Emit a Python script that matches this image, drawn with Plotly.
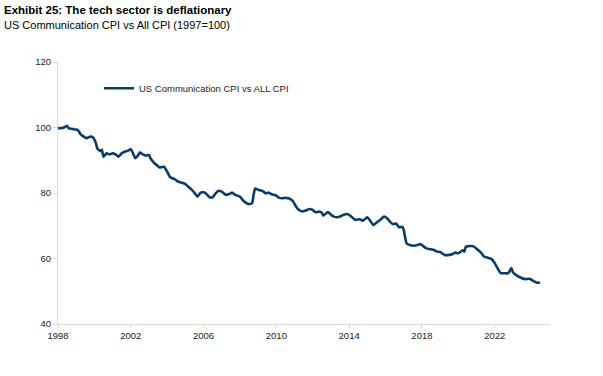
import plotly.graph_objects as go

dates = ["1998-01","1998-03","1998-05","1998-07","1998-08","1998-10","1998-12",
 "1999-02","1999-04","1999-06","1999-08","1999-10","1999-12",
 "2000-02","2000-03","2000-05","2000-06","2000-07","2000-09","2000-11",
 "2001-01","2001-03","2001-05","2001-07","2001-09","2001-12",
 "2002-01","2002-02","2002-04","2002-06","2002-07","2002-09","2002-11",
 "2003-01","2003-02","2003-04","2003-05","2003-06","2003-08","2003-11",
 "2004-01","2004-03","2004-06","2004-08","2004-11",
 "2005-01","2005-03","2005-05","2005-07","2005-09","2005-11",
 "2006-01","2006-03","2006-05","2006-07","2006-09","2006-11",
 "2007-01","2007-04","2007-06","2007-08","2007-10",
 "2008-01","2008-03","2008-05","2008-07","2008-09","2008-10","2008-11",
 "2009-01","2009-04","2009-06","2009-08","2009-10",
 "2010-01","2010-03","2010-05","2010-07","2010-09","2010-12",
 "2011-02","2011-04","2011-06","2011-08","2011-11",
 "2012-01","2012-03","2012-05","2012-07","2012-08","2012-11",
 "2013-01","2013-03","2013-05","2013-07","2013-09","2013-12",
 "2014-02","2014-05","2014-08","2014-10",
 "2015-01","2015-03","2015-05","2015-07","2015-10","2015-12",
 "2016-02","2016-04","2016-06","2016-08","2016-10","2016-12",
 "2017-01","2017-02","2017-03","2017-05","2017-08","2017-10","2017-12",
 "2018-02","2018-04","2018-07","2018-09","2018-11",
 "2019-01","2019-04","2019-07","2019-09","2019-11",
 "2020-01","2020-04","2020-05","2020-06","2020-09","2020-11",
 "2021-01","2021-04","2021-06","2021-08","2021-11",
 "2022-01","2022-03","2022-05","2022-07","2022-10","2022-12",
 "2023-01","2023-03","2023-06","2023-09","2023-12",
 "2024-03","2024-05","2024-07"]

values = [99.8,99.8,100.0,100.5,99.8,99.6,99.4,
 99.3,97.9,97.2,96.7,97.2,97.0,
 95.2,93.6,92.8,93.2,91.1,92.1,91.8,
 92.1,91.8,91.1,92.1,92.6,93.1,
 93.4,92.6,90.6,91.6,92.4,91.8,91.4,
 91.6,90.6,89.4,88.9,88.6,87.8,88.0,
 86.5,84.8,84.2,83.5,83.1,
 82.7,81.9,81.1,80.1,78.9,80.1,
 80.2,79.7,78.7,78.7,79.9,80.7,
 80.4,79.4,79.7,80.1,79.4,
 78.9,77.8,77.0,76.6,76.9,79.4,81.4,
 81.0,80.6,79.9,80.1,79.6,
 79.2,78.5,78.4,78.5,78.4,77.5,
 75.8,74.8,74.4,74.6,75.1,
 74.8,74.1,74.3,74.0,73.1,74.2,
 73.4,72.8,72.6,72.8,73.3,73.6,
 73.0,71.8,72.0,71.5,
 72.6,71.5,70.2,70.9,72.0,72.8,
 72.3,71.2,70.5,70.7,69.5,69.7,
 68.7,66.2,64.6,64.1,63.9,64.1,64.4,
 63.7,63.1,62.8,62.6,62.1,
 62.0,61.1,61.1,61.3,61.8,
 61.6,62.5,62.1,63.6,63.8,63.7,
 63.0,61.8,60.6,60.3,59.8,
 58.6,57.0,55.5,55.5,55.5,57.1,
 55.8,55.0,54.2,53.7,53.8,
 53.0,52.6,52.6]

series_name = "US Communication CPI vs ALL CPI"
tick_years = ["1998", "2002", "2006", "2010", "2014", "2018", "2022"]
tick_dates = [y + "-01-01" for y in tick_years]
y_ticks = [40, 60, 80, 100, 120]

title = "<b>Exhibit 25: The tech sector is deflationary</b>"
subtitle = "US Communication CPI vs All CPI (1997=100)"

navy = "#0b3c68"
axis_gray = "#d9d9d9"

fig = go.Figure()
fig.add_trace(go.Scatter(x=dates, y=values, mode="lines", name=series_name,
                         line=dict(color=navy, width=2.6, shape="spline", smoothing=0.4),
                         showlegend=True))

fig.update_layout(
    width=603, height=376,
    margin=dict(l=58, r=53, t=62, b=52),
    paper_bgcolor="white", plot_bgcolor="white",
    font=dict(family="Liberation Sans, Arial, sans-serif", size=9.5, color="#222"),
    showlegend=True,
    legend=dict(x=(99 - 58) / 492, xanchor="left", y=0.9, yanchor="middle",
                bgcolor="rgba(0,0,0,0)", itemwidth=30,
                font=dict(size=9.5, color="#222")),
    xaxis=dict(type="date", range=["1998-01-01", "2025-01-15"],
               tickvals=tick_dates, ticktext=tick_years,
               showgrid=False, zeroline=False,
               showline=True, linecolor=axis_gray, linewidth=1,
               ticks="outside", ticklen=3, tickcolor=axis_gray),
    yaxis=dict(range=[40, 120], tickvals=y_ticks,
               showgrid=False, zeroline=False,
               showline=True, linecolor=axis_gray, linewidth=1,
               ticks="outside", ticklen=4, tickcolor=axis_gray),
)

fig.add_annotation(text=title, xref="paper", yref="paper",
                   x=-56 / 492, y=1 + (62 - 10) / 262, xanchor="left", yanchor="middle",
                   showarrow=False,
                   font=dict(family="Liberation Sans, Arial, sans-serif", size=11.5, color="#000"))
fig.add_annotation(text=subtitle, xref="paper", yref="paper",
                   x=-56 / 492, y=1 + (62 - 25) / 262, xanchor="left", yanchor="middle",
                   showarrow=False,
                   font=dict(family="Liberation Sans, Arial, sans-serif", size=11, color="#000"))

fig.write_html("out.html", config={"displayModeBar": False},
               post_script="document.body.style.margin='0px';")
